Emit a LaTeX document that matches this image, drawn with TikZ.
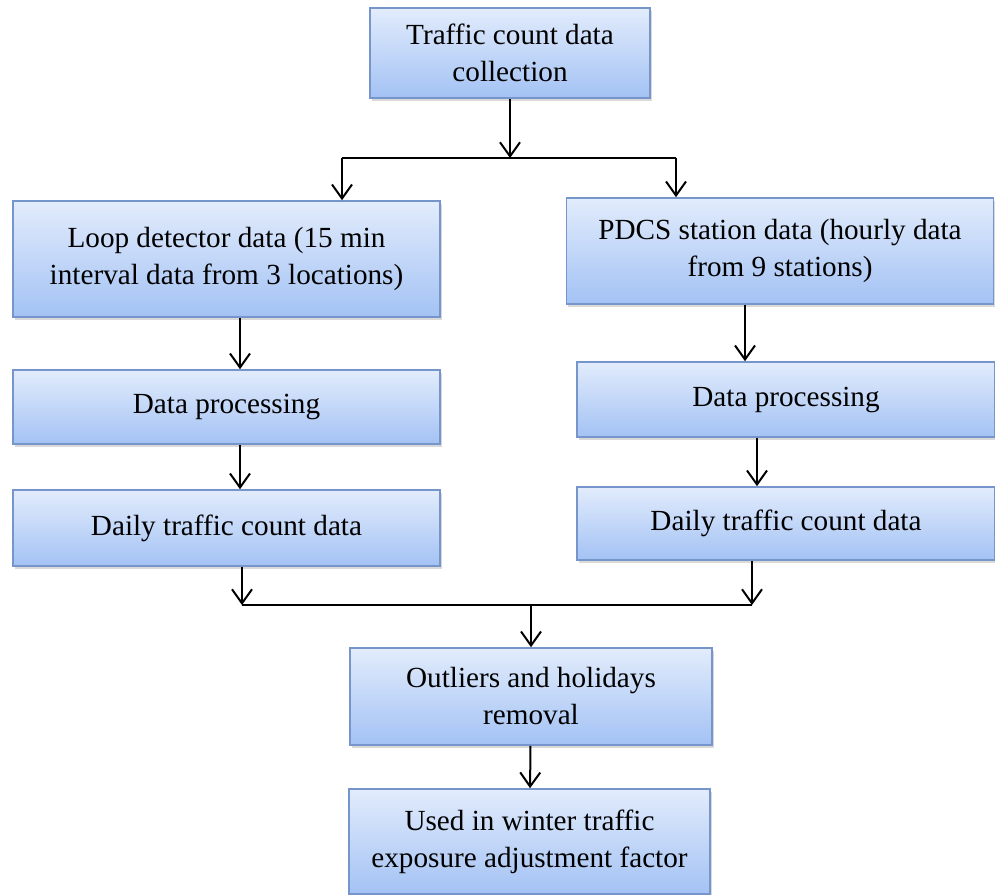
\documentclass[tikz,border=0pt]{standalone}
\usepackage{fontspec}
\setmainfont{Liberation Serif}
\usetikzlibrary{arrows.meta,shadows}

\definecolor{boxtop}{RGB}{226,236,252}
\definecolor{boxbot}{RGB}{163,194,244}
\definecolor{boxline}{RGB}{118,150,203}

\begin{document}
\begin{tikzpicture}[x=0.5pt,y=-0.5pt,->,>={Straight Barb[length=7pt,width=10pt]},
  line width=1pt,
  box/.style={rectangle,draw=boxline,line width=0.8pt,top color=boxtop,bottom color=boxbot,
    drop shadow={opacity=0.3,shadow xshift=0.8pt,shadow yshift=-1.6pt},
    align=center,inner sep=0pt,font=\fontsize{14.6}{18.5}\selectfont}]
\useasboundingbox (0,0) rectangle (995,894);
\node[box,minimum width=140pt,minimum height=45pt] (top) at (510,53) {Traffic count data\\collection};
\node[box,minimum width=213.5pt,minimum height=58pt] (loop) at (226.5,259) {Loop detector data (15 min\\interval data from 3 locations)};
\node[box,minimum width=213.5pt,minimum height=53pt] (pdcs) at (780,251) {PDCS station data (hourly data\\from 9 stations)};
\node[box,minimum width=213.5pt,minimum height=37pt] (proc1) at (226.5,407) {Data processing};
\node[box,minimum width=209pt,minimum height=37.5pt] (proc2) at (786,399.5) {Data processing};
\node[box,minimum width=213.5pt,minimum height=38pt] (daily1) at (226.5,528) {Daily traffic count data};
\node[box,minimum width=209pt,minimum height=36.5pt] (daily2) at (786,523.5) {Daily traffic count data};
\node[box,minimum width=181pt,minimum height=48.5pt] (out) at (531,696.5) {Outliers and holidays\\removal};
\node[box,minimum width=180.5pt,minimum height=52.5pt] (used) at (529.5,841.5) {Used in winter traffic\\exposure adjustment factor};

% split after collection
\coordinate (split) at (510,158);
\coordinate (sl) at (342,158);
\coordinate (sr) at (676,158);
\draw (top.south) -- (split);
\draw[-] (sl) -- (sr);
\draw (sl) -- (sl |- loop.north);
\draw (sr) -- (sr |- pdcs.north);

% left branch
\draw (loop.south -| 240,0) -- (proc1.north -| 240,0);
\draw (proc1.south -| 240,0) -- (daily1.north -| 240,0);

% right branch
\draw (pdcs.south -| 745,0) -- (proc2.north -| 745,0);
\draw (proc2.south -| 757,0) -- (daily2.north -| 757,0);

% merge
\coordinate (ml) at (242,605);
\coordinate (mr) at (752,605);
\draw (daily1.south -| ml) -- (ml);
\draw (daily2.south -| mr) -- (mr);
\draw[-] (ml) -- (mr);
\draw (out.north |- ml) -- (out.north);
\draw (out) -- (used);
\end{tikzpicture}
\end{document}
